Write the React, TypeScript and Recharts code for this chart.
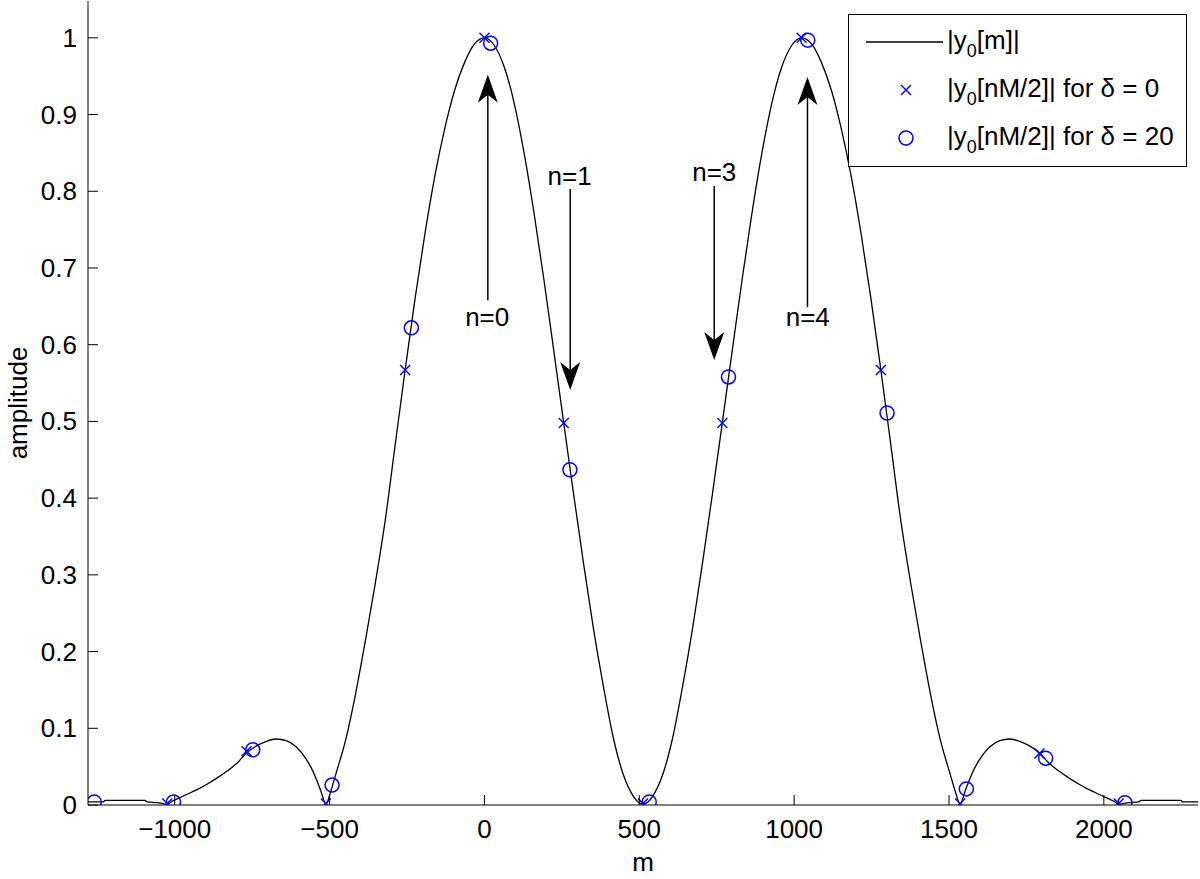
import React from 'react';
import { ComposedChart, Line, Scatter, XAxis, YAxis, ReferenceLine, ReferenceDot } from 'recharts';

const FONT = '"Liberation Sans", Arial, Helvetica, sans-serif';
const BLUE = '#0000ff';

// |y0[m]| (m, amplitude)
const curveM = [
  -1280, -1248, -1232, -1224, -1184, -1152, -1120, -1096, -1088, -1056, -1040, -1024,
  -1008, -992, -960, -928, -896, -864, -832, -800, -768, -736, -704, -672, -640, -608, -576, -560, -544, -528, -512,
  -496, -480, -448, -416, -384, -352, -320, -288, -256, -224, -192, -160, -128, -96, -64, -32, 0,
  32, 64, 96, 128, 160, 192, 224, 256, 288, 320, 352, 384, 416, 448, 480, 496, 512,
  528, 544, 576, 608, 640, 672, 704, 736, 768, 800, 832, 864, 896, 928, 960, 992, 1024,
  1056, 1088, 1120, 1152, 1184, 1216, 1248, 1280, 1312, 1344, 1376, 1408, 1440, 1472, 1504, 1520, 1536,
  1552, 1568, 1584, 1600, 1632, 1664, 1696, 1728, 1760, 1792, 1824, 1856, 1888, 1920, 1952, 1984, 2016, 2032, 2048,
  2064, 2080, 2112, 2120, 2144, 2176, 2208, 2248, 2256, 2304,
];
const curveAmp = [
  0.004, 0.004, 0.004, 0.006, 0.006, 0.006, 0.006, 0.006, 0.004, 0.003, 0.002, 0.001,
  0.005, 0.008, 0.014, 0.020, 0.027, 0.035, 0.044, 0.054, 0.068, 0.077, 0.083, 0.086, 0.084, 0.076, 0.060, 0.049, 0.035, 0.018, 0.001,
  0.018, 0.040, 0.085, 0.145, 0.215, 0.290, 0.372, 0.470, 0.567, 0.660, 0.745, 0.820, 0.882, 0.932, 0.968, 0.992, 1.000,
  0.990, 0.962, 0.915, 0.850, 0.772, 0.685, 0.592, 0.498, 0.405, 0.315, 0.230, 0.155, 0.088, 0.040, 0.012, 0.004, 0.001,
  0.004, 0.012, 0.040, 0.088, 0.155, 0.230, 0.315, 0.405, 0.498, 0.592, 0.685, 0.772, 0.850, 0.915, 0.962, 0.990, 1.000,
  0.992, 0.968, 0.932, 0.882, 0.820, 0.745, 0.660, 0.567, 0.470, 0.372, 0.290, 0.215, 0.145, 0.085, 0.040, 0.018, 0.001,
  0.018, 0.035, 0.049, 0.060, 0.076, 0.084, 0.086, 0.083, 0.077, 0.068, 0.054, 0.044, 0.035, 0.027, 0.020, 0.014, 0.008, 0.005, 0.001,
  0.002, 0.003, 0.004, 0.006, 0.006, 0.006, 0.006, 0.006, 0.004, 0.004,
];

// samples |y0[nM/2]| for delta = 0
const crossM = [-1024, -768, -512, -256, 0, 256, 512, 768, 1024, 1280, 1536, 1792, 2048];
const crossAmp = [0.002, 0.070, 0.002, 0.567, 1.0, 0.498, 0.002, 0.498, 1.0, 0.567, 0.002, 0.067, 0.002];

// samples |y0[nM/2]| for delta = 20
const circleM = [-1260, -1004, -748, -492, -236, 20, 276, 532, 788, 1044, 1300, 1556, 1812, 2068];
const circleAmp = [0.004, 0.004, 0.072, 0.026, 0.622, 0.993, 0.437, 0.004, 0.558, 0.997, 0.511, 0.021, 0.061, 0.003];

// arrow annotations
const arrowLabels = ['n=0', 'n=1', 'n=3', 'n=4'];
const arrowM = [11, 277, 742, 1043];
const arrowTail = [0.658, 0.803, 0.807, 0.649];
const arrowTip = [0.952, 0.541, 0.580, 0.949];
const labelM = [9, 275, 742, 1044];
const labelAmp = [0.636, 0.820, 0.825, 0.636];

const xTicks = [-1000, -500, 0, 500, 1000, 1500, 2000];
const yTicks = [0, 0.1, 0.2, 0.3, 0.4, 0.5, 0.6, 0.7, 0.8, 0.9, 1];

const curve = curveM.map((m, i) => ({ m, v: curveAmp[i] }));
const crosses = crossM.map((m, i) => ({ m, v: crossAmp[i] }));
const circles = circleM.map((m, i) => ({ m, v: circleAmp[i] }));

const fmtX = (v: number) => (v < 0 ? '\u2212' + Math.abs(v) : String(v));

const BottomTick = (p: any) => (
  <g>
    <line x1={p.x} y1={p.y} x2={p.x} y2={p.y - 10} stroke="#000" />
    <text x={p.x} y={p.y + 24} textAnchor="middle" dominantBaseline="central" fontSize={26} fontFamily={FONT} fill="#000">
      {fmtX(p.payload.value)}
    </text>
  </g>
);
const TopTick = (p: any) => <line x1={p.x} y1={p.y} x2={p.x} y2={p.y + 10} stroke="#000" />;
const LeftTick = (p: any) => (
  <g>
    <line x1={p.x} y1={p.y} x2={p.x + 10} y2={p.y} stroke="#000" />
    <text x={p.x - 11} y={p.y} textAnchor="end" dominantBaseline="central" fontSize={26} fontFamily={FONT} fill="#000">
      {String(p.payload.value)}
    </text>
  </g>
);
const RightTick = (p: any) => <line x1={p.x} y1={p.y} x2={p.x - 10} y2={p.y} stroke="#000" />;

const CrossDot = (p: any) => (
  <g stroke={BLUE} strokeWidth={1.4}>
    <line x1={p.cx - 5} y1={p.cy - 5} x2={p.cx + 5} y2={p.cy + 5} />
    <line x1={p.cx - 5} y1={p.cy + 5} x2={p.cx + 5} y2={p.cy - 5} />
  </g>
);
const CircleDot = (p: any) => <circle cx={p.cx} cy={p.cy} r={7} fill="none" stroke={BLUE} strokeWidth={1.5} />;

// vertical arrow, head at second point
const Arrow = (p: any) => {
  const { x1, y1, x2, y2 } = p;
  const d = y2 < y1 ? -1 : 1;
  const len = 28, hw = 10, notch = 20;
  const head = `M${x2},${y2} L${x2 - hw},${y2 - d * len} L${x2},${y2 - d * notch} L${x2 + hw},${y2 - d * len} Z`;
  return (
    <g>
      <line x1={x1} y1={y1} x2={x2} y2={y2 - d * notch} stroke="#000" strokeWidth={1.5} />
      <path d={head} fill="#000" />
    </g>
  );
};

const Sub = ({ c }: { c: string }) => (
  <span style={{ fontSize: 18, position: 'relative', top: 8 }}>{c}</span>
);

export default function App() {
  return (
    <div style={{ position: 'absolute', left: 0, top: 0, width: 1200, height: 879, background: '#fff' }}>
      <ComposedChart width={1200} height={879} margin={{ top: 1, right: 2, bottom: 0, left: 28 }}>
        <XAxis
          dataKey="m"
          type="number"
          domain={[-1280, 2304]}
          ticks={xTicks}
          interval={0}
          allowDataOverflow
          height={74}
          tickSize={0}
          tickMargin={0}
          tickLine={false}
          tick={BottomTick}
          axisLine={{ stroke: '#000' }}
          label={{
            content: (p: any) => (
              <text
                x={p.viewBox.x + p.viewBox.width / 2}
                y={p.viewBox.y + 57}
                textAnchor="middle"
                dominantBaseline="central"
                fontSize={26}
                fontFamily={FONT}
                fill="#000"
              >
                m
              </text>
            ),
          }}
        />
        <XAxis
          xAxisId="top"
          orientation="top"
          dataKey="m"
          type="number"
          domain={[-1280, 2304]}
          ticks={xTicks}
          interval={0}
          allowDataOverflow
          height={0}
          tickSize={0}
          tickMargin={0}
          tickLine={false}
          tick={TopTick}
          axisLine={{ stroke: '#000' }}
        />
        <YAxis
          dataKey="v"
          type="number"
          domain={[0, 1.048]}
          ticks={yTicks}
          interval={0}
          allowDataOverflow
          width={60}
          tickSize={0}
          tickMargin={0}
          tickLine={false}
          tick={LeftTick}
          axisLine={{ stroke: '#000' }}
          label={{
            content: (p: any) => {
              const cx = p.viewBox.x - 10;
              const cy = p.viewBox.y + p.viewBox.height / 2;
              return (
                <text
                  x={cx}
                  y={cy}
                  transform={`rotate(-90 ${cx} ${cy})`}
                  textAnchor="middle"
                  dominantBaseline="central"
                  fontSize={26}
                  fontFamily={FONT}
                  fill="#000"
                >
                  amplitude
                </text>
              );
            },
          }}
        />
        <YAxis
          yAxisId="right"
          orientation="right"
          type="number"
          domain={[0, 1.048]}
          ticks={yTicks}
          interval={0}
          allowDataOverflow
          width={0}
          tickSize={0}
          tickMargin={0}
          tickLine={false}
          tick={RightTick}
          axisLine={{ stroke: '#000' }}
        />
        <Line
          data={curve}
          dataKey="v"
          type="monotone"
          stroke="#000"
          strokeWidth={1.3}
          dot={false}
          activeDot={false}
          isAnimationActive={false}
        />
        <Scatter data={crosses} dataKey="v" shape={CrossDot} isAnimationActive={false} />
        <Scatter data={circles} dataKey="v" shape={CircleDot} isAnimationActive={false} />
        {arrowLabels.map((t, i) => (
          <ReferenceLine
            key={'a' + t}
            segment={[
              { x: arrowM[i], y: arrowTail[i] },
              { x: arrowM[i], y: arrowTip[i] },
            ]}
            shape={Arrow}
          />
        ))}
        {arrowLabels.map((t, i) => (
          <ReferenceDot
            key={'l' + t}
            x={labelM[i]}
            y={labelAmp[i]}
            r={0}
            shape={(p: any) => (
              <text x={p.cx} y={p.cy} textAnchor="middle" dominantBaseline="central" fontSize={26} fontFamily={FONT} fill="#000">
                {t}
              </text>
            )}
          />
        ))}
      </ComposedChart>
      <div
        style={{
          position: 'absolute',
          left: 848,
          top: 14,
          width: 337,
          height: 151,
          border: '1px solid #000',
          background: '#fff',
          fontFamily: FONT,
          fontSize: 26,
          color: '#000',
        }}
      >
        <svg width={337} height={151} style={{ position: 'absolute', left: 0, top: 0 }}>
          <line x1={17} y1={27} x2={94} y2={27} stroke="#000" strokeWidth={1.3} />
          <CrossDot cx={57} cy={75} />
          <CircleDot cx={57} cy={123} />
        </svg>
        <div style={{ position: 'absolute', left: 98, top: 10, lineHeight: '30px', whiteSpace: 'nowrap' }}>
          |y<Sub c="0" />[m]|
        </div>
        <div style={{ position: 'absolute', left: 98, top: 58, lineHeight: '30px', whiteSpace: 'nowrap' }}>
          |y<Sub c="0" />[nM/2]| for δ = 0
        </div>
        <div style={{ position: 'absolute', left: 98, top: 106, lineHeight: '30px', whiteSpace: 'nowrap' }}>
          |y<Sub c="0" />[nM/2]| for δ = 20
        </div>
      </div>
    </div>
  );
}
